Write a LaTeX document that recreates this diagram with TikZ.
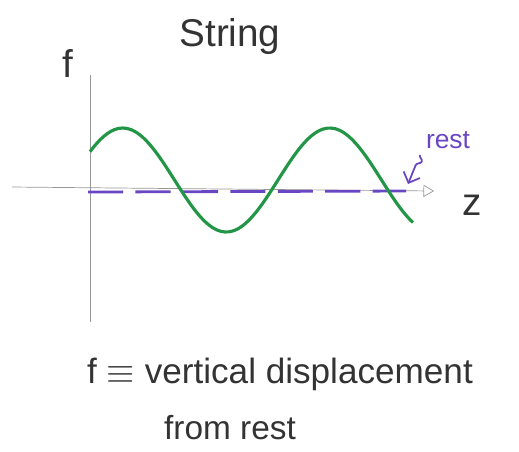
\documentclass[tikz,border=0pt]{standalone}
\usepackage{fontspec}
\setmainfont{Liberation Sans}
\usetikzlibrary{positioning, arrows.meta, decorations.pathmorphing}
\definecolor{wavegreen}{RGB}{34,150,70}
\definecolor{restpurple}{RGB}{105,70,195}
\definecolor{axisgray}{RGB}{150,150,150}
\tikzset{
  axisline/.style={axisgray, thin},
  handtext/.style={font=\fontsize{19}{22}\selectfont, text=black!80},
}
\begin{document}
\begin{tikzpicture}[x=0.02cm, y=-0.02cm]
\useasboundingbox (0,0) rectangle (519,451);
% axes
\coordinate (yTop) at (90,75);
\coordinate (yBot) at (90,322);
\coordinate (xLeft) at (12,187);
\coordinate (xRight) at (434,191);
\draw[axisline] (yBot) -- (yTop);
\draw[axisline, -{Triangle[open, length=6pt, width=7pt]}] (xLeft) -- (xRight);
% rest level
\coordinate (restA) at (88,192);
\coordinate (restB) at (406,191);
\draw[restpurple, line width=1.6pt, dash pattern=on 20pt off 7pt] (restA) -- (restB);
% the string
\draw[wavegreen, line width=1.8pt, domain=90:413, samples=80, smooth]
  plot (\x, {180 - 52*sin(1.73913*(\x-71))});
% labels
\node[handtext, font=\fontsize{22}{26}\selectfont] (title) at (230,36) {String};
\node[handtext, font=\fontsize{22}{26}\selectfont] (flabel) at (68,64) {f};
\node[handtext, font=\fontsize{22}{26}\selectfont] (zlabel) at (472,205) {z};
\node[handtext, text=restpurple, font=\fontsize{15}{18}\selectfont] (restlabel) at (448,140) {rest};
\coordinate (restTip) at (408,184);
\draw[restpurple, line width=1pt, -{Straight Barb[length=5pt]},
  decorate, decoration={snake, amplitude=2.5pt, segment length=10pt, post length=7pt}]
  (restlabel.south west) to (restTip);
\node[handtext, font=\fontsize{20}{24}\selectfont] (defline) at (280,374) {f $\equiv$ vertical displacement};
\node[handtext, font=\fontsize{19}{22}\selectfont] (fromrest) at (230,428) {from rest};
\end{tikzpicture}
\end{document}
